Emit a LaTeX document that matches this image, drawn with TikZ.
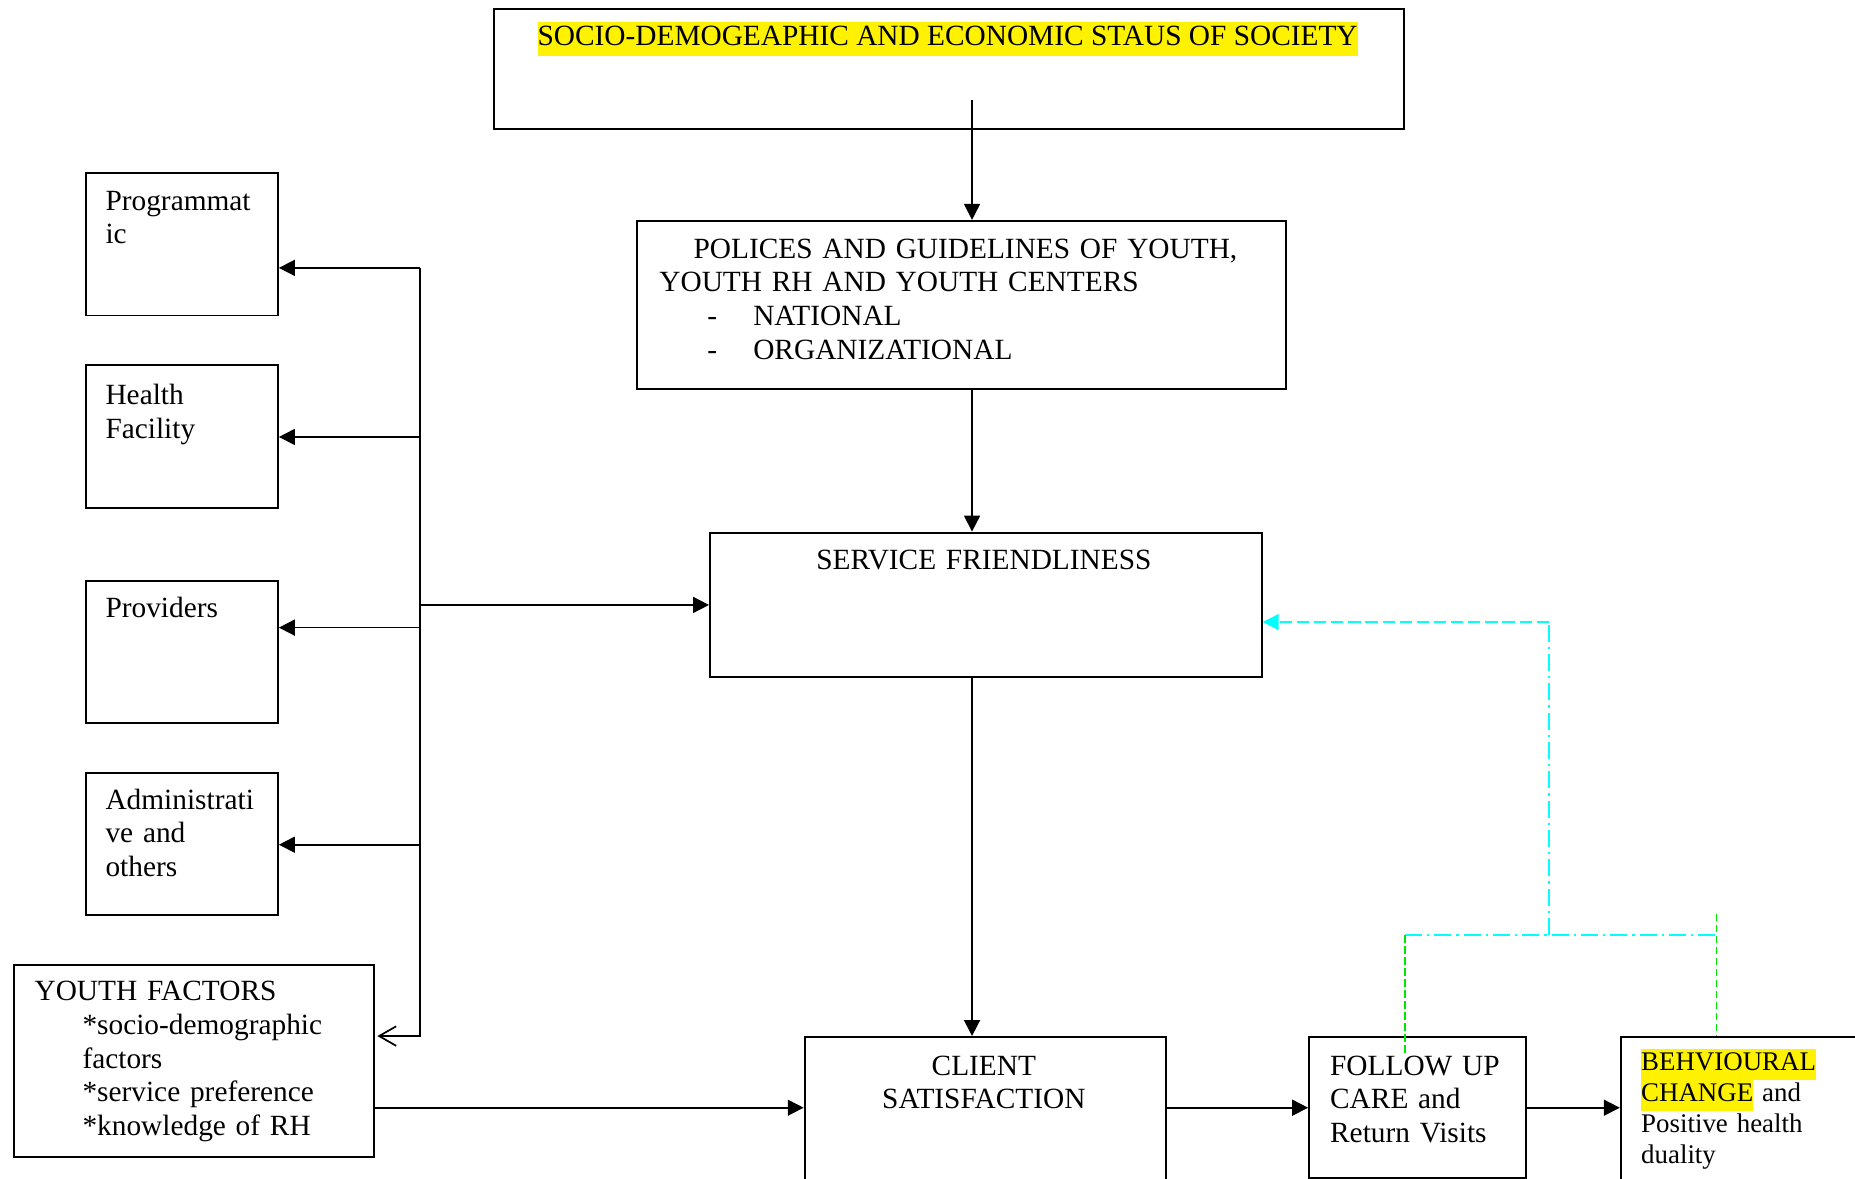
\documentclass[tikz,border=0pt]{standalone}
\usepackage{fontspec}
\setmainfont{Liberation Serif}
\usetikzlibrary{arrows.meta, positioning}
\definecolor{fbcyan}{RGB}{0,255,255}
\definecolor{fbgreen}{RGB}{0,230,0}
\newcommand{\hl}[1]{{\setlength{\fboxsep}{0pt}\colorbox{yellow}{\strut #1}}}

\begin{document}
\begin{tikzpicture}[
    box/.style={draw, line width=0.8pt, rectangle, anchor=north west, inner sep=0pt},
    txt/.style={inner sep=0pt, anchor=base west, align=left, font=\fontsize{12}{13.8}\selectfont},
    ctxt/.style={inner sep=0pt, anchor=base, align=center, font=\fontsize{12}{13.8}\selectfont},
    arr/.style={line width=0.7pt, -{Triangle[length=6.5pt,width=6.5pt]}},
    fbdash/.style={line width=0.75pt, fbcyan, dash pattern=on 5pt off 2pt},
    fbdot/.style={line width=0.75pt, fbcyan, dash pattern=on 7pt off 2pt on 1pt off 2pt},
    grn/.style={line width=0.75pt, fbgreen, dash pattern=on 3pt off 1.5pt}
]
    \useasboundingbox (0,0) rectangle (26.66,-16.94);

    % Boxes
    \node[box, minimum width=13.09cm, minimum height=1.72cm] (soc) at (7.08,-0.115) {};
    \node[box, minimum width=9.33cm, minimum height=2.41cm] (pol) at (9.14,-3.16) {};
    \node[box, minimum width=7.93cm, minimum height=2.08cm] (svc) at (10.19,-7.64) {};
    \node[box, minimum width=5.19cm, minimum height=2.5cm] (cli) at (11.55,-14.89) {};
    \node[box, minimum width=3.12cm, minimum height=2.03cm] (fol) at (18.80,-14.89) {};
    \node[box, minimum width=5cm, minimum height=2.5cm] (beh) at (23.28,-14.89) {};

    \node[box, minimum width=2.76cm, minimum height=2.05cm] (prog) at (1.22,-2.47) {};
    \node[box, minimum width=2.76cm, minimum height=2.05cm] (hlth) at (1.22,-5.23) {};
    \node[box, minimum width=2.76cm, minimum height=2.05cm] (prov) at (1.22,-8.33) {};
    \node[box, minimum width=2.76cm, minimum height=2.05cm] (adm) at (1.22,-11.09) {};
    \node[box, minimum width=5.17cm, minimum height=2.76cm] (yth) at (0.19,-13.85) {};

    % Texts
    \node[ctxt] (socT) at (13.62,-0.66) {\hl{SOCIO-DEMOGEAPHIC AND ECONOMIC STAUS OF SOCIETY}};
    \node[txt, text width=9cm] (polT) at (9.47,-3.71) {\hspace*{14pt}POLICES AND GUIDELINES OF YOUTH,\\
        YOUTH RH AND YOUTH CENTERS\\
        \hspace*{19.6pt}\makebox[18.8pt][l]{-}NATIONAL\\
        \hspace*{19.6pt}\makebox[18.8pt][l]{-}ORGANIZATIONAL};
    \node[ctxt, text width=7cm] (svcT) at (14.14,-8.19) {SERVICE FRIENDLINESS};
    \node[ctxt, text width=5cm] (cliT) at (14.14,-15.45) {CLIENT\\ SATISFACTION};
    \node[txt, text width=3cm] (folT) at (19.11,-15.45) {FOLLOW UP\\ CARE and\\ Return Visits};
    \node[txt, text width=4cm, font=\fontsize{11}{12.65}\selectfont] (behT) at (23.58,-15.39)
        {\hl{BEHVIOURAL}\\ \hl{CHANGE} and\\ Positive health\\ duality};

    \node[txt, text width=2.5cm] (progT) at (1.51,-3.02) {Programmat\\ ic};
    \node[txt, text width=2.5cm] (hlthT) at (1.51,-5.81) {Health\\ Facility};
    \node[txt, text width=2.5cm] (provT) at (1.51,-8.88) {Providers};
    \node[txt, text width=2.5cm] (admT) at (1.51,-11.63) {Administrati\\ ve and\\ others};
    \node[txt, text width=5cm] (ythT) at (0.49,-14.38) {YOUTH FACTORS\\
        \hspace*{19.6pt}*socio-demographic\\ \hspace*{19.6pt}factors\\
        \hspace*{19.6pt}*service preference\\ \hspace*{19.6pt}*knowledge of RH};

    % Main chain
    \coordinate (ax) at (13.97,-1.44);
    \draw[arr] (ax) -- (ax |- pol.north);
    \draw[arr] (ax |- pol.south) -- (ax |- svc.north);
    \draw[arr] (ax |- svc.south) -- (ax |- cli.north);

    \coordinate (r) at (0,-15.92);
    \draw[arr] (yth.east |- r) -- (cli.west |- r);
    \draw[arr] (cli.east |- r) -- (fol.west |- r);
    \draw[arr] (fol.east |- r) -- (beh.west |- r);

    % Spine to the left boxes
    \coordinate (s1) at (6.04,-3.85);
    \coordinate (s2) at (6.04,-6.28);
    \coordinate (s3) at (6.04,-9.02);
    \coordinate (s4) at (6.04,-12.14);
    \coordinate (s5) at (6.04,-14.89);
    \draw[line width=0.7pt, -{Straight Barb[length=7pt,width=8pt]}, shorten >=1pt] (s1) -- (s5) -- (s5 -| yth.east);
    \draw[arr] (s1) -- (s1 -| prog.east);
    \draw[arr] (s2) -- (s2 -| hlth.east);
    \draw[arr] (s3) -- (s3 -| prov.east);
    \draw[arr] (s4) -- (s4 -| adm.east);
    \draw[arr] (s1 |- svc.west) -- (svc.west);

    % Feedback
    \coordinate (c1) at (20.19,-13.44);
    \coordinate (c2) at (24.67,-13.44);
    \coordinate (c3) at (22.26,-13.44);
    \coordinate (c4) at (22.26,-8.94);
    \draw[fbdot] (c1) -- (c2);
    \draw[fbdot] (c3) -- (c4);
    \draw[fbdash, -{Triangle[length=6.5pt,width=6.5pt]}] (c4) -- (c4 -| svc.east);
    \draw[grn] (c1) -- (20.19,-15.13);
    \draw[grn] (24.67,-13.13) -- (c2 |- beh.north);
\end{tikzpicture}
\end{document}
